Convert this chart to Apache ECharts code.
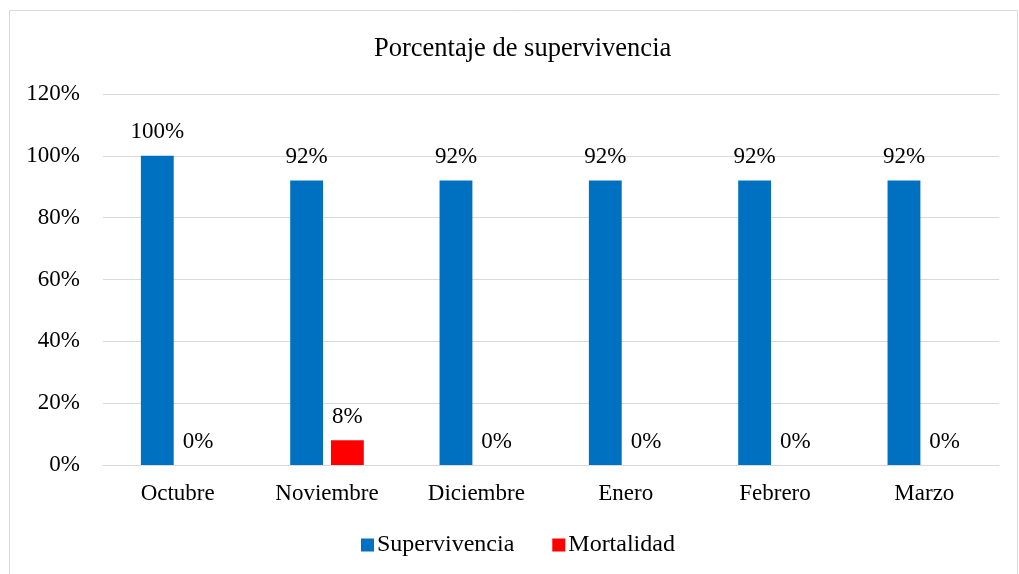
<!DOCTYPE html>
<html>
<head>
<meta charset="utf-8">
<script src="https://cdn.jsdelivr.net/npm/echarts@6/dist/echarts.min.js"></script>
<style>
  html, body { margin: 0; padding: 0; background: #fff; }
  #chart { width: 1019px; height: 574px; }
</style>
</head>
<body>
<div id="chart"></div>
<script>
const months = ['Octubre', 'Noviembre', 'Diciembre', 'Enero', 'Febrero', 'Marzo'];
const supervivencia = [100, 92, 92, 92, 92, 92];
const mortalidad = [0, 8, 0, 0, 0, 0];

const serif = '"Liberation Serif", "DejaVu Serif", serif';

const chart = echarts.init(document.getElementById('chart'));

const barLabel = {
  show: true,
  position: 'top',
  distance: 12,
  color: '#000',
  fontFamily: serif,
  fontSize: 23,
  formatter: (p) => p.value + '%'
};

chart.setOption({
  animation: false,
  textStyle: { fontFamily: serif },
  title: {
    text: 'Porcentaje de supervivencia',
    left: 369,
    top: 31,
    textStyle: { fontFamily: serif, fontSize: 26.5, fontWeight: 'normal', color: '#000' }
  },
  graphic: [{
    type: 'rect',
    shape: { x: 9.5, y: 10.5, width: 1008, height: 600 },
    style: { fill: 'none', stroke: '#d9d9d9', lineWidth: 1 },
    silent: true
  }],
  legend: {
    bottom: 12,
    left: 356,
    itemWidth: 13,
    itemHeight: 13,
    itemGap: 38,
    icon: 'rect',
    textStyle: { fontFamily: serif, fontSize: 24, color: '#000', padding: [0, 0, 0, -2] },
    data: ['Supervivencia', 'Mortalidad']
  },
  grid: { left: 103, right: 20, top: 94, bottom: 109 },
  xAxis: {
    type: 'category',
    data: months,
    axisLine: { lineStyle: { color: '#d9d9d9', width: 1 } },
    axisTick: { show: false },
    axisLabel: { color: '#000', fontFamily: serif, fontSize: 23, margin: 17 }
  },
  yAxis: {
    type: 'value',
    min: 0,
    max: 120,
    interval: 20,
    axisLine: { show: false },
    axisTick: { show: false },
    splitLine: { lineStyle: { color: '#d9d9d9', width: 1 } },
    axisLabel: { color: '#000', fontFamily: serif, fontSize: 23, margin: 23, formatter: '{value}%' }
  },
  series: [
    {
      name: 'Supervivencia',
      type: 'bar',
      data: supervivencia,
      barWidth: '22%',
      barGap: '24%',
      itemStyle: { color: '#0070C0' },
      label: barLabel
    },
    {
      name: 'Mortalidad',
      type: 'bar',
      data: mortalidad,
      barWidth: '22%',
      itemStyle: { color: '#FF0000' },
      label: barLabel
    }
  ]
});
</script>
</body>
</html>
